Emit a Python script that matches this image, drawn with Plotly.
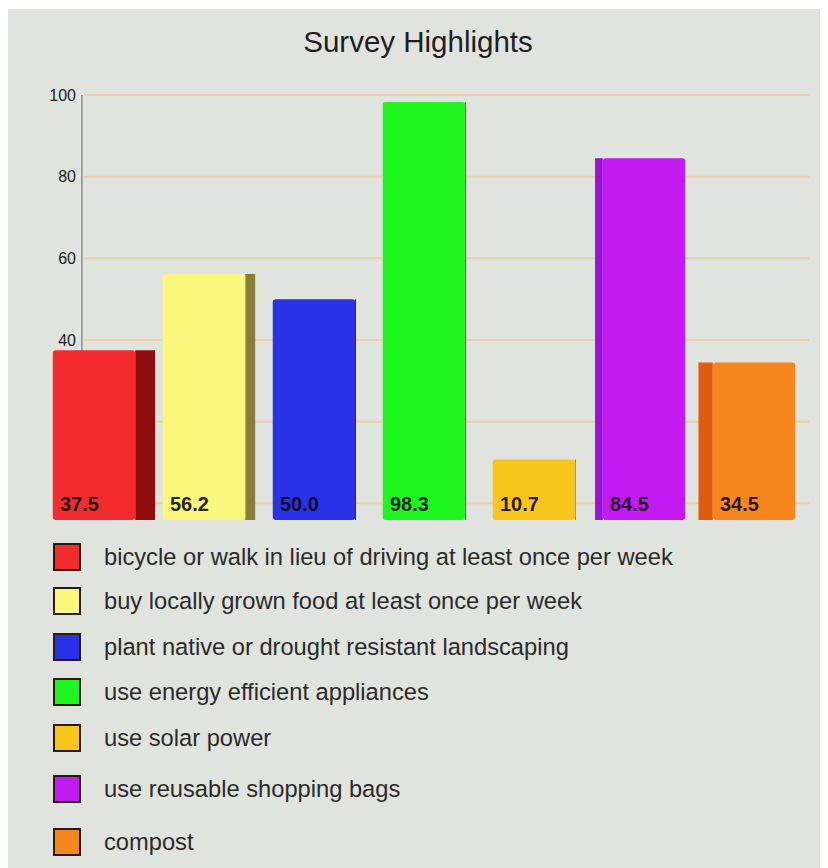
import plotly.graph_objects as go

# ---------------- data ----------------
CATEGORIES = [
    "bicycle or walk in lieu of driving at least once per week",
    "buy locally grown food at least once per week",
    "plant native or drought resistant landscaping",
    "use energy efficient appliances",
    "use solar power",
    "use reusable shopping bags",
    "compost",
]
VALUES = [37.5, 56.2, 50.0, 98.3, 10.7, 84.5, 34.5]
VALUE_LABELS = ["37.5", "56.2", "50.0", "98.3", "10.7", "84.5", "34.5"]
TICK_VALUES = [40, 60, 80, 100]
GRID_VALUES = [0, 20, 40, 60, 80, 100]
TITLE = "Survey Highlights"

# ---------------- styles ----------------
COLORS = ["#f22c2c", "#f9f77c", "#2a32e8", "#1ff51f", "#f7c51c", "#c41af2", "#f8861f"]
SIDE_COLORS = ["#8e0c0c", "#8c7d34", "#1a20a0", "#10a010", "#b08a10", "#9a12d4", "#e05a10"]
SIDE_WIDTH = [0.18, 0.09, 0.0, 0.0, 0.0, -0.07, -0.13]  # +right face, -left face (category units)
LEGEND_BORDER = "#2a1a10"
BG = "#e0e3de"
GRID_COLOR = "#e7d1aa"
FONT = "Liberation Sans, Arial, sans-serif"

PAGE_OFF = 8  # browser body margin
W_PX, H_PX = 820, 860
# plot area in page pixels: x 39..809, y 80..520
L = 39 - PAGE_OFF
T = 80 - PAGE_OFF
R = W_PX - (809 - PAGE_OFF)
B = H_PX - (520 - PAGE_OFF)
PW, PH = W_PX - L - R, H_PX - T - B
Y_MIN, Y_MAX = -4.1, 103.7
BAR_W = 0.75
AXIS_X = -0.11


def px_x(px):
    """page pixel x -> paper coordinate"""
    return (px - PAGE_OFF - L) / PW


def px_y(py):
    """page pixel y -> paper coordinate"""
    return 1 - (py - PAGE_OFF - T) / PH


fig = go.Figure()

# side faces (3D look)
side_offsets, side_widths = [], []
for sw in SIDE_WIDTH:
    if sw >= 0:
        side_offsets.append(BAR_W / 2)
        side_widths.append(max(sw, 1e-6))
    else:
        side_offsets.append(-BAR_W / 2 + sw)
        side_widths.append(-sw)

fig.add_trace(go.Bar(
    x=CATEGORIES, y=[v - Y_MIN for v in VALUES], base=Y_MIN,
    offset=side_offsets, width=side_widths,
    marker=dict(color=SIDE_COLORS, line=dict(width=0)),
    showlegend=False, hoverinfo="skip",
))

fig.add_trace(go.Bar(
    x=CATEGORIES, y=[v - Y_MIN for v in VALUES], base=Y_MIN,
    width=BAR_W, offset=-BAR_W / 2,
    marker=dict(color=COLORS, line=dict(width=0), cornerradius=3),
    customdata=VALUES, hovertemplate="%{x}: %{customdata}<extra></extra>",
    showlegend=False,
))

shapes = []
# background panel
shapes.append(dict(type="rect", xref="paper", yref="paper",
                   x0=px_x(7), x1=px_x(826), y0=px_y(872), y1=px_y(9),
                   fillcolor=BG, line=dict(width=0), layer="below"))
# gridlines
for g in GRID_VALUES:
    shapes.append(dict(type="line", xref="x", yref="y", x0=AXIS_X + 0.02, x1=6.5, y0=g, y1=g,
                       line=dict(color=GRID_COLOR, width=2), layer="below"))
# y axis line
shapes.append(dict(type="line", xref="x", yref="y", x0=AXIS_X, x1=AXIS_X, y0=0, y1=100,
                   line=dict(color="#8f8f8f", width=1.5), layer="below"))

annotations = []
# value labels
for cat, lab in zip(CATEGORIES, VALUE_LABELS):
    annotations.append(dict(x=cat, y=Y_MIN, xref="x", yref="y", text=f"<b>{lab}</b>",
                            showarrow=False, xanchor="left", yanchor="bottom",
                            xshift=-36, yshift=3,
                            font=dict(family=FONT, size=20, color="rgba(10,10,10,0.9)")))

# custom legend (large squares)
LEGEND_ROW_Y = [557, 601, 647, 692, 738, 789, 842]
for cat, col, ry in zip(CATEGORIES, COLORS, LEGEND_ROW_Y):
    shapes.append(dict(type="rect", xref="paper", yref="paper",
                       x0=px_x(54), x1=px_x(80), y0=px_y(ry + 13), y1=px_y(ry - 13),
                       fillcolor=col, line=dict(color=LEGEND_BORDER, width=2)))
    annotations.append(dict(x=px_x(102), y=px_y(ry), xref="paper", yref="paper",
                            text=cat, showarrow=False, xanchor="left", yanchor="middle",
                            font=dict(family=FONT, size=23.7, color="#2b2b2b")))

fig.update_layout(
    width=W_PX, height=H_PX,
    margin=dict(l=L, r=R, t=T, b=B),
    paper_bgcolor="white", plot_bgcolor="rgba(0,0,0,0)",
    barmode="overlay",
    title=dict(text=TITLE, x=0.5, xanchor="center", xref="container",
               y=1 - (42 - PAGE_OFF) / H_PX, yref="container", yanchor="middle",
               font=dict(family=FONT, size=29.5, color="#1e1e1e")),
    xaxis=dict(type="category", range=[-0.5, 6.5], showticklabels=False, showgrid=False,
               zeroline=False, showline=False, ticks=""),
    yaxis=dict(range=[Y_MIN, Y_MAX], tickvals=TICK_VALUES, ticks="", showgrid=False,
               zeroline=False, showline=False, anchor="free", position=px_x(80),
               ticklabelstandoff=4,
               tickfont=dict(family=FONT, size=16, color="#222222")),
    shapes=shapes, annotations=annotations,
    showlegend=False,
)

fig.write_html("out.html")
